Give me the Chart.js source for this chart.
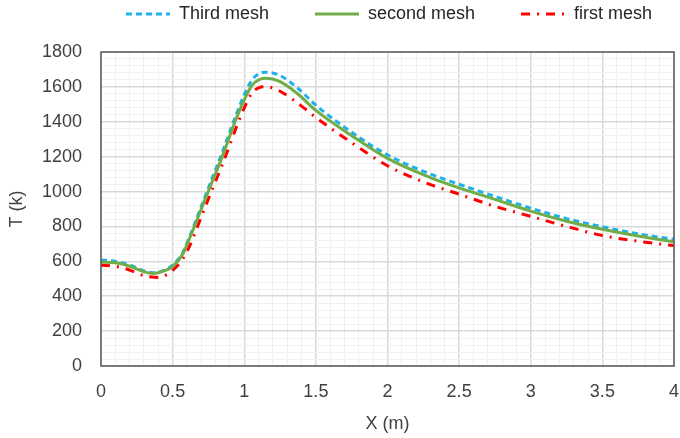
<!DOCTYPE html>
<html>
<head>
<meta charset="utf-8">
<script src="https://cdn.jsdelivr.net/npm/chart.js@4.4.1/dist/chart.umd.min.js"></script>
<style>
  html, body { margin: 0; padding: 0; background: #ffffff; }
  #wrap { width: 680px; height: 438px; position: relative; }
</style>
</head>
<body>
<div id="wrap"><canvas id="c" width="680" height="438"></canvas></div>
<script>
// ---- data ----
const seriesNames = ["Third mesh", "second mesh", "first mesh"];

const thirdX = [0, 0.1, 0.2, 0.3, 0.36, 0.45, 0.5, 0.57, 0.62, 0.7, 0.78, 0.84, 0.9, 0.95, 1.0, 1.05, 1.1, 1.15, 1.25, 1.37, 1.5, 1.75, 2.0, 2.3, 2.5, 2.75, 3.0, 3.25, 3.5, 3.75, 4.0];
const thirdT = [608, 600, 580, 545, 535, 552, 578, 650, 745, 915, 1085, 1210, 1345, 1455, 1555, 1635, 1675, 1684, 1665, 1595, 1495, 1340, 1210, 1100, 1042, 972, 905, 845, 798, 758, 726];

const secondX = [0, 0.1, 0.2, 0.3, 0.36, 0.45, 0.5, 0.57, 0.62, 0.7, 0.78, 0.84, 0.9, 0.95, 1.0, 1.05, 1.1, 1.15, 1.25, 1.37, 1.5, 1.75, 2.0, 2.3, 2.5, 2.75, 3.0, 3.25, 3.5, 3.75, 4.0];
const secondT = [595, 592, 572, 540, 530, 548, 570, 640, 735, 900, 1065, 1186, 1321, 1430, 1525, 1605, 1640, 1649, 1630, 1562, 1465, 1320, 1190, 1080, 1021, 955, 888, 830, 784, 745, 712];

const firstX = [0, 0.1, 0.2, 0.3, 0.4, 0.45, 0.5, 0.57, 0.62, 0.7, 0.78, 0.84, 0.9, 0.95, 1.0, 1.05, 1.1, 1.15, 1.25, 1.4, 1.5, 1.75, 2.0, 2.3, 2.5, 2.75, 3.0, 3.25, 3.5, 3.75, 4.0];
const firstT = [578, 572, 550, 518, 508, 520, 548, 612, 690, 855, 1020, 1140, 1270, 1380, 1480, 1560, 1595, 1601, 1575, 1490, 1425, 1280, 1148, 1040, 985, 915, 858, 800, 748, 715, 690];

const xMin = 0, xMax = 4, xMajor = 0.5, xMinor = 0.1;
const yMin = 0, yMax = 1800, yMajor = 200, yMinor = 40;
const xTitle = "X (m)";
const yTitle = "T (k)";

function pts(xs, ys) { return xs.map((x, i) => ({ x: x, y: ys[i] })); }

const FONT = "'Liberation Sans', Arial, sans-serif";
const TXT = '#404040';

const frame = {
  id: 'frame',
  afterDatasetsDraw(chart) {
    const a = chart.chartArea, ctx = chart.ctx;
    ctx.save();
    ctx.strokeStyle = '#595959';
    ctx.lineWidth = 1.5;
    ctx.strokeRect(a.left, a.top, a.right - a.left, a.bottom - a.top);
    ctx.restore();
  }
};

function isMult(v, step) {
  const r = v / step;
  return Math.abs(r - Math.round(r)) < 1e-6;
}

new Chart(document.getElementById('c'), {
  type: 'line',
  data: {
    datasets: [
      { label: seriesNames[0], data: pts(thirdX, thirdT), borderColor: '#1FB1EB', backgroundColor: '#1FB1EB',
        borderWidth: 3, borderDash: [6, 4], pointRadius: 0, cubicInterpolationMode: 'monotone', order: 1 },
      { label: seriesNames[1], data: pts(secondX, secondT), borderColor: '#70AD47', backgroundColor: '#70AD47',
        borderWidth: 3, pointRadius: 0, cubicInterpolationMode: 'monotone', order: 0 },
      { label: seriesNames[2], data: pts(firstX, firstT), borderColor: '#FF0000', backgroundColor: '#FF0000',
        borderWidth: 3, borderDash: [9, 7, 2, 7], pointRadius: 0, cubicInterpolationMode: 'monotone', order: 2 }
    ]
  },
  options: {
    responsive: false,
    animation: false,
    devicePixelRatio: 1,
    layout: { padding: { left: 6, right: -92, top: -41, bottom: 0 } },
    plugins: {
      legend: {
        position: 'top',
        labels: {
          usePointStyle: true,
          pointStyle: 'line',
          pointStyleWidth: 44,
          boxHeight: 8,
          padding: 46,
          color: '#262626',
          font: { family: FONT, size: 18 },
          generateLabels(chart) {
            return chart.data.datasets.map((d, i) => ({
              text: d.label, datasetIndex: i, fillStyle: d.borderColor, strokeStyle: d.borderColor,
              lineWidth: 3, lineDash: d.borderDash || [], pointStyle: 'line', hidden: false, fontColor: '#262626'
            }));
          }
        }
      },
      tooltip: { enabled: false }
    },
    scales: {
      x: {
        type: 'linear', min: xMin, max: xMax,
        afterBuildTicks(scale) {
          const t = [];
          for (let i = 0; i <= Math.round((xMax - xMin) / xMinor); i++) t.push({ value: +(xMin + i * xMinor).toFixed(6) });
          scale.ticks = t;
        },
        afterFit(scale) { scale.height = 72; scale.paddingRight = 6; },
        ticks: {
          autoSkip: false, maxRotation: 0, padding: 15, color: TXT,
          font: { family: FONT, size: 18 },
          callback: (v) => isMult(v, xMajor) ? String(Math.round(v * 10) / 10) : ''
        },
        grid: {
          drawTicks: false,
          color: (c) => isMult(c.tick.value, xMajor) ? '#D9D9D9' : '#F0F0F0',
          lineWidth: (c) => isMult(c.tick.value, xMajor) ? 1.5 : 1
        },
        border: { display: false },
        title: { display: true, text: xTitle, color: TXT, font: { family: FONT, size: 18 }, padding: { top: 6, bottom: 3 } }
      },
      xTop: {
        type: 'linear', position: 'top', min: xMin, max: xMax,
        afterFit(scale) { scale.height = 19; scale.paddingLeft = 0; scale.paddingRight = 0; },
        ticks: { display: false },
        grid: { display: false },
        border: { display: false }
      },
      y: {
        type: 'linear', min: yMin, max: yMax,
        afterBuildTicks(scale) {
          const t = [];
          for (let i = 0; i <= Math.round((yMax - yMin) / yMinor); i++) t.push({ value: yMin + i * yMinor });
          scale.ticks = t;
        },
        afterFit(scale) { scale.width = 95; },
        ticks: {
          autoSkip: false, padding: 19, color: TXT,
          font: { family: FONT, size: 18 },
          callback: (v) => isMult(v, yMajor) ? String(v) : ''
        },
        grid: {
          drawTicks: false,
          color: (c) => isMult(c.tick.value, yMajor) ? '#D9D9D9' : '#F0F0F0',
          lineWidth: (c) => isMult(c.tick.value, yMajor) ? 1.5 : 1
        },
        border: { display: false },
        title: { display: true, text: yTitle, color: TXT, font: { family: FONT, size: 18 }, padding: { top: 0, bottom: 8 } }
      }
    }
  },
  plugins: [frame]
});
</script>
</body>
</html>
